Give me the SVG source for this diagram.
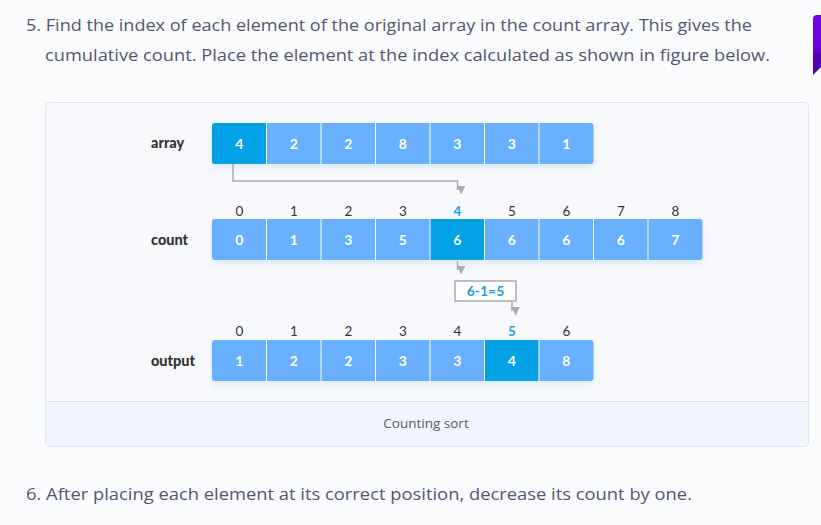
<svg xmlns="http://www.w3.org/2000/svg" width="821" height="525" viewBox="0 0 821 525">
<defs>
<linearGradient id="pg" x1="0" y1="0" x2="0" y2="1">
<stop offset="0" stop-color="#6f08e8"/><stop offset="0.62" stop-color="#6604dc"/><stop offset="0.64" stop-color="#5400b8"/><stop offset="1" stop-color="#5000b0"/>
</linearGradient>
<marker id="ah" viewBox="0 0 10 10" refX="5" refY="9" markerWidth="9" markerHeight="9" markerUnits="userSpaceOnUse" orient="auto-start-reverse">
<path d="M0 0 L10 0 L5 10 Z" fill="#a9abb0" transform="rotate(-90 5 5)"/>
</marker>
<filter id="sh" x="-5%" y="-20%" width="110%" height="160%">
<feDropShadow dx="0" dy="4" stdDeviation="3" flood-color="#6aa9f0" flood-opacity="0.18"/>
</filter>
</defs>
<style>
.para{font-family:"Open Sans","Liberation Sans",sans-serif;font-size:17px;fill:#55556f}
.lbl{font-family:Lato,"Liberation Sans",sans-serif;font-size:14.5px;font-weight:900;fill:#333}
.idx{font-family:Lato,"Liberation Sans",sans-serif;font-size:13.5px;fill:#333;text-anchor:middle}
.hi{fill:#1a9ee2;font-weight:bold}
.cv{font-family:Lato,"Liberation Sans",sans-serif;font-size:14px;font-weight:bold;fill:#fff;text-anchor:middle}
.lc{fill:#68affd}
.dc{fill:#03a1e6}
.div{stroke:#fff;stroke-width:1}
.conn{fill:none;stroke:#a9abb0;stroke-width:1.5}
.cap{font-family:"Open Sans","Liberation Sans",sans-serif;font-size:13.5px;fill:#555b70;text-anchor:middle}
</style>
<rect width="821" height="525" fill="#fafbfd"/>
<path d="M821 15 H817 Q813 15 813 19 V75 L821 67 Z" fill="url(#pg)"/>
<text class="para" x="26" y="31" textLength="726" lengthAdjust="spacingAndGlyphs">5. Find the index of each element of the original array in the count array. This gives the</text>
<text class="para" x="45" y="61" textLength="725" lengthAdjust="spacingAndGlyphs">cumulative count. Place the element at the index calculated as shown in figure below.</text>
<g id="card">
<rect x="45.5" y="102.5" width="763" height="344" rx="4" fill="#f8f9fc" stroke="#dfe3ea"/>
<path d="M46 401.5 H808 V442 Q808 446 804 446 H50 Q46 446 46 442 Z" fill="#f1f4fa"/>
<line x1="46" y1="401.5" x2="808" y2="401.5" stroke="#dbe0e8"/>
<text class="cap" x="426" y="428">Counting sort</text>
</g>
<g id="array">
<text class="lbl" x="151" y="148">array</text>
<rect x="212" y="123" width="381.5" height="41" rx="3" class="lc" filter="url(#sh)"/>
<path d="M215 123 H266.5 V164 H215 Q212 164 212 161 V126 Q212 123 215 123 Z" class="dc"/>
<g class="div"><line x1="266.5" y1="123" x2="266.5" y2="164"/><line x1="321" y1="123" x2="321" y2="164"/><line x1="375.5" y1="123" x2="375.5" y2="164"/><line x1="430" y1="123" x2="430" y2="164"/><line x1="484.5" y1="123" x2="484.5" y2="164"/><line x1="539" y1="123" x2="539" y2="164"/></g>
<text class="cv" x="239.3" y="148.5">4</text><text class="cv" x="293.8" y="148.5">2</text><text class="cv" x="348.3" y="148.5">2</text><text class="cv" x="402.8" y="148.5">8</text><text class="cv" x="457.3" y="148.5">3</text><text class="cv" x="511.8" y="148.5">3</text><text class="cv" x="566.3" y="148.5">1</text>
</g>
<g id="count">
<text class="lbl" x="151" y="245">count</text>
<text class="idx" x="239.3" y="216">0</text><text class="idx" x="293.8" y="216">1</text><text class="idx" x="348.3" y="216">2</text><text class="idx" x="402.8" y="216">3</text><text class="idx hi" x="457.3" y="216">4</text><text class="idx" x="511.8" y="216">5</text><text class="idx" x="566.3" y="216">6</text><text class="idx" x="620.8" y="216">7</text><text class="idx" x="675.3" y="216">8</text>
<rect x="212" y="219" width="490.5" height="41" rx="3" class="lc" filter="url(#sh)"/>
<rect x="430" y="219" width="54.5" height="41" class="dc"/>
<g class="div"><line x1="266.5" y1="219" x2="266.5" y2="260"/><line x1="321" y1="219" x2="321" y2="260"/><line x1="375.5" y1="219" x2="375.5" y2="260"/><line x1="430" y1="219" x2="430" y2="260"/><line x1="484.5" y1="219" x2="484.5" y2="260"/><line x1="539" y1="219" x2="539" y2="260"/><line x1="593.5" y1="219" x2="593.5" y2="260"/><line x1="648" y1="219" x2="648" y2="260"/></g>
<text class="cv" x="239.3" y="245">0</text><text class="cv" x="293.8" y="245">1</text><text class="cv" x="348.3" y="245">3</text><text class="cv" x="402.8" y="245">5</text><text class="cv" x="457.3" y="245">6</text><text class="cv" x="511.8" y="245">6</text><text class="cv" x="566.3" y="245">6</text><text class="cv" x="620.8" y="245">6</text><text class="cv" x="675.3" y="245">7</text>
</g>
<g id="calc">
<rect x="455" y="281" width="61" height="20" fill="#fff" stroke="#a9abb0" stroke-width="1.5"/>
<text class="cv" x="485.5" y="296" style="fill:#1a9ee2">6-1=5</text>
</g>
<g id="output">
<text class="lbl" x="151" y="366">output</text>
<text class="idx" x="239.3" y="336">0</text><text class="idx" x="293.8" y="336">1</text><text class="idx" x="348.3" y="336">2</text><text class="idx" x="402.8" y="336">3</text><text class="idx" x="457.3" y="336">4</text><text class="idx hi" x="511.8" y="336">5</text><text class="idx" x="566.3" y="336">6</text>
<rect x="212" y="340" width="381.5" height="41" rx="3" class="lc" filter="url(#sh)"/>
<rect x="484.5" y="340" width="54.5" height="41" class="dc"/>
<g class="div"><line x1="266.5" y1="340" x2="266.5" y2="381"/><line x1="321" y1="340" x2="321" y2="381"/><line x1="375.5" y1="340" x2="375.5" y2="381"/><line x1="430" y1="340" x2="430" y2="381"/><line x1="484.5" y1="340" x2="484.5" y2="381"/><line x1="539" y1="340" x2="539" y2="381"/></g>
<text class="cv" x="239.3" y="366">1</text><text class="cv" x="293.8" y="366">2</text><text class="cv" x="348.3" y="366">2</text><text class="cv" x="402.8" y="366">3</text><text class="cv" x="457.3" y="366">3</text><text class="cv" x="511.8" y="366">4</text><text class="cv" x="566.3" y="366">8</text>
</g>
<g id="connectors">
<path class="conn" d="M233 164 V181 H457.5 V190" marker-end="url(#ah)"/>
<path class="conn" d="M457.5 261 V270" marker-end="url(#ah)"/>
<path class="conn" d="M512 302 V311" marker-end="url(#ah)"/>
</g>
<text class="para" x="26" y="500" textLength="666" lengthAdjust="spacingAndGlyphs">6. After placing each element at its correct position, decrease its count by one.</text>
</svg>
